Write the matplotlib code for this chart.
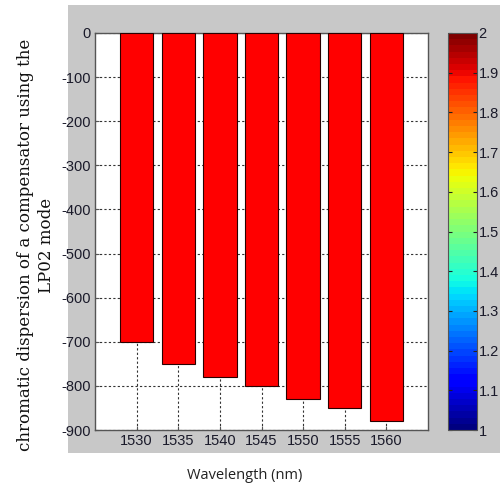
import matplotlib
matplotlib.use("Agg")
from matplotlib import pyplot as plt
from matplotlib.patches import Rectangle
import matplotlib as mpl
import numpy as np

wavelength = [1530, 1535, 1540, 1545, 1550, 1555, 1560]
dispersion = [-700, -750, -780, -800, -830, -850, -880]
yticks = list(range(0, -1000, -100))
cbar_ticks = [1, 1.1, 1.2, 1.3, 1.4, 1.5, 1.6, 1.7, 1.8, 1.9, 2]

plt.rcParams['axes.unicode_minus'] = False
plt.rcParams['font.family'] = ['Liberation Sans', 'DejaVu Sans']
plt.rcParams['font.size'] = 10.5

fig = plt.figure(figsize=(5, 4.9), dpi=100)
fig.patch.set_facecolor('white')

# grey matlab-like panel behind the axes
panel = Rectangle((0.136, 0.0755), 0.864, 0.914, transform=fig.transFigure,
                  facecolor='#c8c8c8', edgecolor='none', zorder=-10)
fig.add_artist(panel)

ax = fig.add_axes([0.19, 0.1224, 0.666, 0.8103])
ax.set_axisbelow(True)
ax.bar(wavelength, dispersion, width=4, color='#ff0000', edgecolor='#2a0000', linewidth=0.8, zorder=3)
ax.set_xlim(1525, 1565)
ax.set_ylim(-900, 0)
ax.set_xticks(wavelength)
ax.set_yticks(yticks)
ax.grid(True, linestyle=(0, (2, 2)), color='#333333', linewidth=0.8)
for s in ax.spines.values():
    s.set_color('#555555')
    s.set_linewidth(1.0)
ax.tick_params(direction='in', length=3, colors='#555555', labelcolor='#1a1a2a', pad=3)

cax = fig.add_axes([0.896, 0.1224, 0.058, 0.8103])
cb = mpl.colorbar.ColorbarBase(cax, cmap=plt.get_cmap('jet', 64),
                               norm=mpl.colors.Normalize(vmin=1, vmax=2))
cb.set_ticks(cbar_ticks)
cb.set_ticklabels(['1', '1.1', '1.2', '1.3', '1.4', '1.5', '1.6', '1.7', '1.8', '1.9', '2'])
cb.outline.set_edgecolor('#555555')
cax.tick_params(direction='in', length=3, colors='#222222', labelcolor='#1a1a2a', pad=1,
                left=True, right=True)

fig.text(0.072, 0.5, 'chromatic dispersion of a compensator using the\nLP02 mode',
         rotation=90, ha='center', va='center', family=['DejaVu Serif'],
         fontsize=12, linespacing=1.25, color='#111111')
fig.text(0.49, 0.03, 'Wavelength (nm)', ha='center', va='center',
         family=['Open Sans', 'DejaVu Sans'], fontsize=10.5, color='#222222')

fig.savefig('out.png', dpi=100)
